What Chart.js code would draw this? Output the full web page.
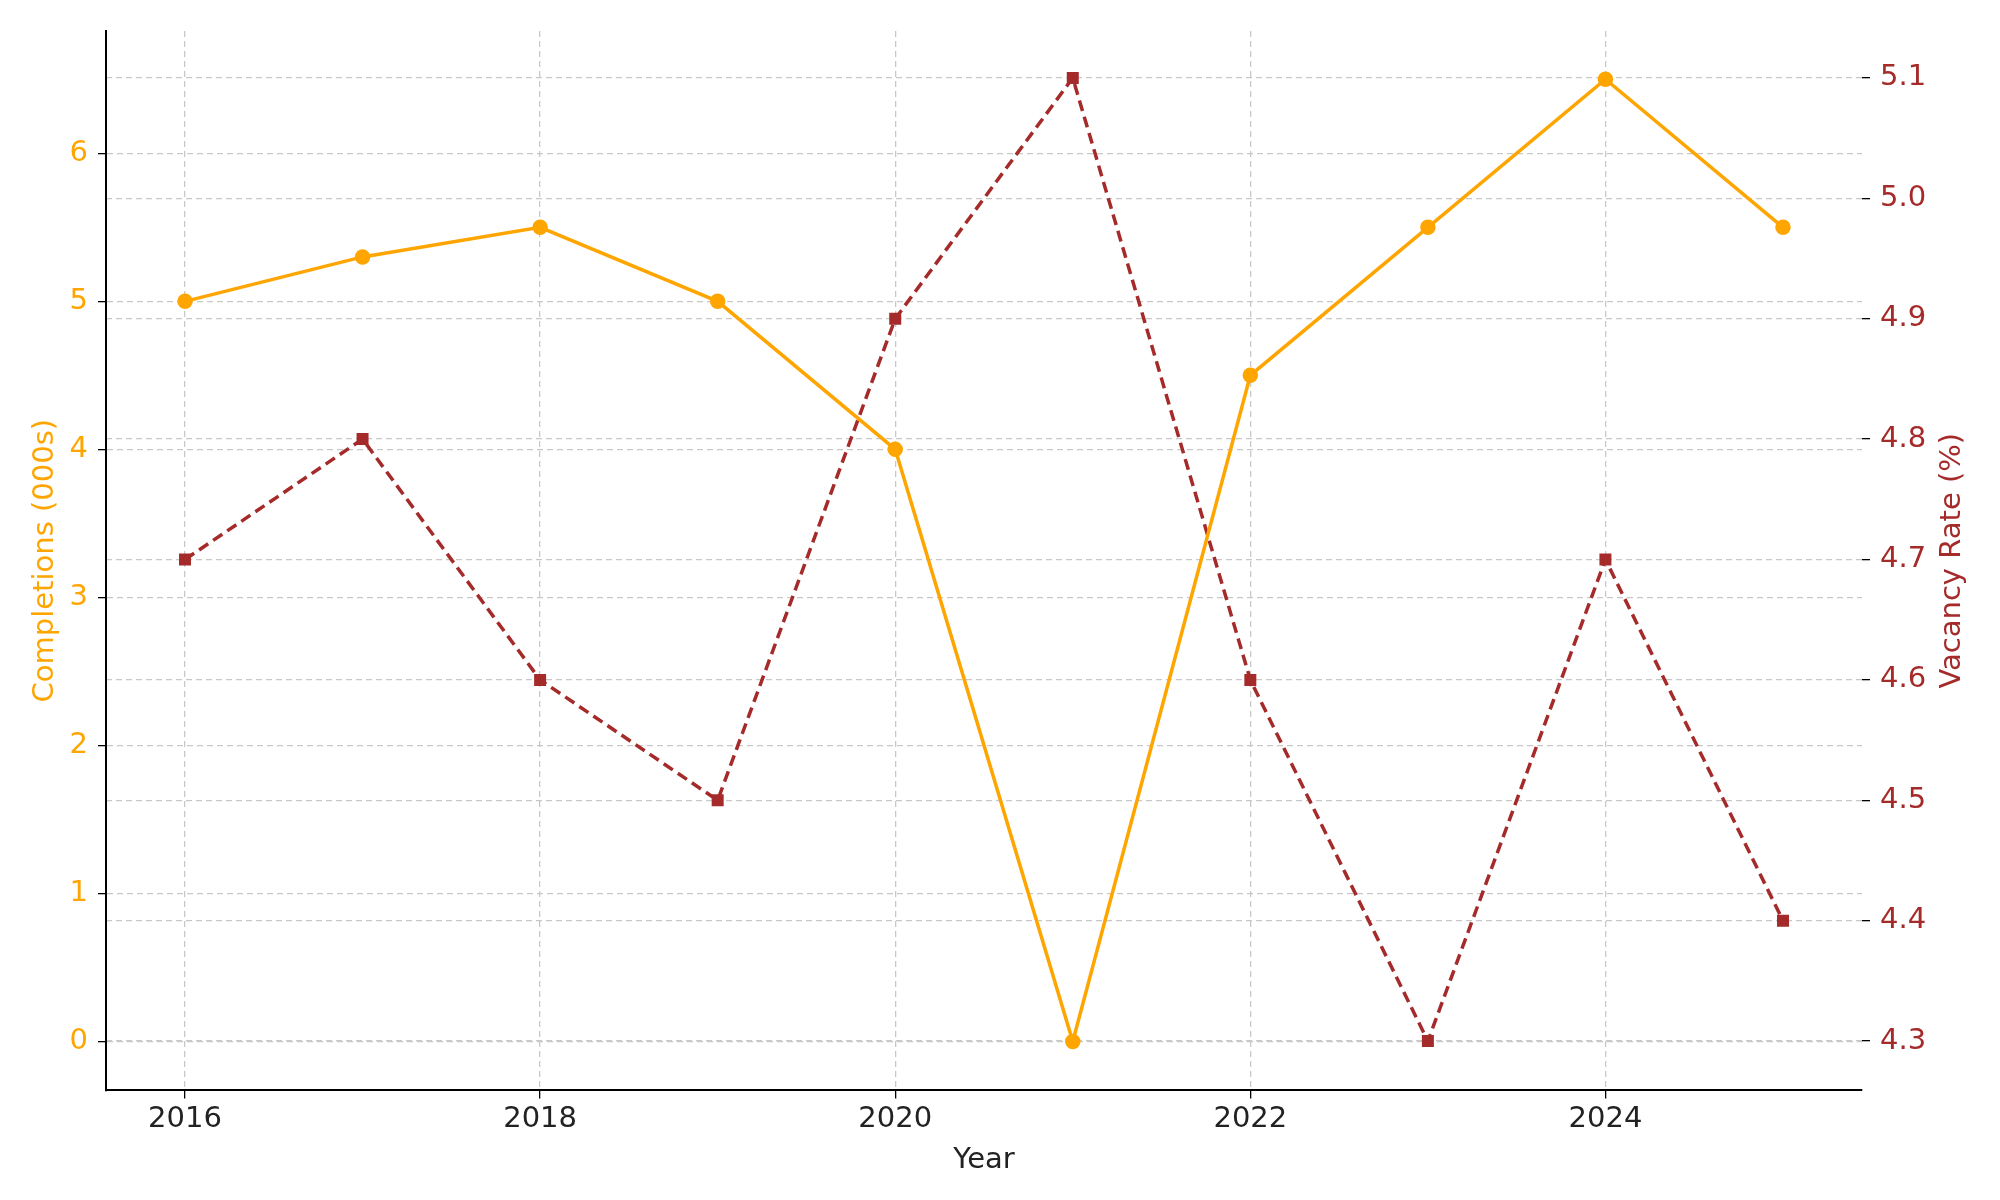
<!DOCTYPE html>
<html><head><meta charset="utf-8">
<script src="https://cdn.jsdelivr.net/npm/chart.js@4"></script>
<style>body{margin:0;background:#fff}canvas{display:block}</style>
</head><body>
<canvas id="c" width="2000" height="1200"></canvas>
<script>
const years = [2016,2017,2018,2019,2020,2021,2022,2023,2024,2025];
const completions = [5,5.3,5.5,5.0,4.0,0,4.5,5.5,6.5,5.5];
const vacancy = [4.7,4.8,4.6,4.5,4.9,5.1,4.6,4.3,4.7,4.4];
const xTicks = [2016,2018,2020,2022,2024];
const leftTicks = [0,1,2,3,4,5,6];
const rightTicks = [4.3,4.4,4.5,4.6,4.7,4.8,4.9,5.0,5.1];
const ORANGE = '#FFA500', RED = '#A52A2A';
const font = {family:'DejaVu Sans', size:29};
const grid = {color:'#c8c8c8', lineWidth:1.3, tickLength:8, tickColor:'#000'};
const sideTitles = {id:'sideTitles', afterDraw(c){
  const ctx=c.ctx, a=c.chartArea, cy=(a.top+a.bottom)/2;
  ctx.save(); ctx.font='29px "DejaVu Sans"'; ctx.textAlign='center'; ctx.textBaseline='middle';
  ctx.translate(45,cy); ctx.rotate(-Math.PI/2); ctx.fillStyle=ORANGE; ctx.fillText('Completions (000s)',0,0);
  ctx.restore(); ctx.save(); ctx.font='29px "DejaVu Sans"'; ctx.textAlign='center'; ctx.textBaseline='middle';
  ctx.translate(1952,cy); ctx.rotate(-Math.PI/2); ctx.fillStyle=RED; ctx.fillText('Vacancy Rate (%)',0,0);
  ctx.restore();
}};
new Chart(document.getElementById('c'), {
  type:'line',
  data:{datasets:[
    {data:years.map((x,i)=>({x,y:completions[i]})), yAxisID:'y', borderColor:ORANGE, backgroundColor:ORANGE,
     borderWidth:3.5, pointRadius:6, pointStyle:'circle'},
    {data:years.map((x,i)=>({x,y:vacancy[i]})), yAxisID:'y2', borderColor:RED, backgroundColor:RED,
     borderWidth:3.5, borderDash:[11,6], pointRadius:6, pointStyle:'rect'}
  ]},
  options:{responsive:false, devicePixelRatio:1, animation:false,
    layout:{padding:{top:31,right:0,left:0,bottom:18}},
    plugins:{legend:{display:false}, tooltip:{enabled:false}},
    scales:{
      x:{type:'linear', min:2015.555, max:2025.445,
         afterBuildTicks:a=>{a.ticks=xTicks.map(v=>({value:v}))},
         ticks:{font, color:'#222', callback:v=>String(v), padding:4},
         grid:{...grid}, border:{display:true,color:'#000',width:2, dash:[6,4]},
         title:{display:true,text:'Year',font,color:'#222',padding:{top:2}}},
      y:{position:'left', min:-0.33, max:6.826,
         afterBuildTicks:a=>{a.ticks=leftTicks.map(v=>({value:v}))},
         afterFit:a=>{a.width=106},
         ticks:{font, color:ORANGE, padding:10},
         grid:{...grid}, border:{display:true,color:'#000',width:2, dash:[6,4]},
         title:{display:false}},
      y2:{position:'right', min:4.259, max:5.139,
         afterBuildTicks:a=>{a.ticks=rightTicks.map(v=>({value:v}))},
         afterFit:a=>{a.width=138},
         ticks:{font, color:RED, padding:10, callback:v=>v.toFixed(1)},
         grid:{...grid}, border:{display:false, dash:[6,4]},
         title:{display:false}}
    }
  },
  plugins:[sideTitles]
});
</script>
</body></html>
